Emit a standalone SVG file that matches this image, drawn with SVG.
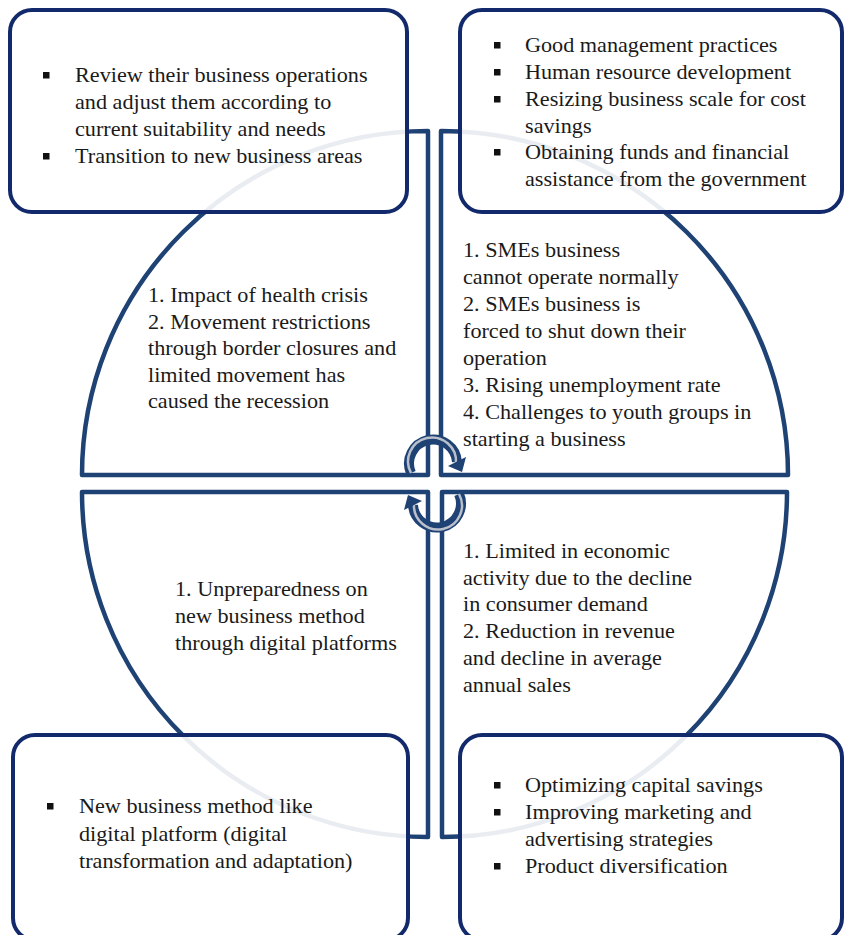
<svg xmlns="http://www.w3.org/2000/svg" width="845" height="935" viewBox="0 0 845 935">
<style>
.sector{fill:#ffffff;stroke:#1f4275;stroke-width:4.5;stroke-linejoin:round}
.box{fill:#ffffff;fill-opacity:0.9;stroke:#12296b;stroke-width:4}
.bul{fill:#111111}
.arcd{fill:none;stroke:#1f4275;stroke-width:10}
.arcl{fill:none;stroke:#b9c0cc;stroke-width:2.5}
</style>
<rect width="845" height="935" fill="#ffffff"/>
<g id="connectors">
  <g id="sector-tl"><path class="sector" d="M428,131 L428,475 L82,475 A346,344 0 0 1 428,131 Z"/></g>
  <g id="sector-tr"><path class="sector" d="M441,131 A347,344 0 0 1 788,475 L441,475 Z"/></g>
  <g id="sector-br"><path class="sector" d="M442,492 L787,492 A345,345 0 0 1 442,837 Z"/></g>
  <g id="sector-bl"><path class="sector" d="M428,492 L428,837 A346,345 0 0 1 82,492 Z"/></g>
  <g id="cycle-top">
    <path class="arcd" d="M411,473 A24,24 0 1 1 457,462"/>
    <path class="arcl" d="M411,473 A24,24 0 1 1 456,463"/>
    <polygon points="466,457 448,466 462,472" fill="#1f4275"/>
  </g>
  <g id="cycle-bottom" transform="rotate(180 435 483.5)">
    <path class="arcd" d="M411,473 A24,24 0 1 1 457,462"/>
    <path class="arcl" d="M411,473 A24,24 0 1 1 456,463"/>
    <polygon points="466,457 448,466 462,472" fill="#1f4275"/>
  </g>
</g>

<g id="q-tl" font-family="Liberation Serif" font-size="20" fill="#1a1a1a">
  <g transform="translate(148,0) scale(1.11,1)">
    <text x="0" y="302">1. Impact of health crisis</text>
    <text x="0" y="329">2. Movement restrictions</text>
    <text x="0" y="355">through border closures and</text>
    <text x="0" y="382">limited movement has</text>
    <text x="0" y="408">caused the recession</text>
  </g>
</g>
<g id="q-tr" font-family="Liberation Serif" font-size="20" fill="#1a1a1a">
  <g transform="translate(463,0) scale(1.11,1)">
    <text x="0" y="257">1. SMEs business</text>
    <text x="0" y="284">cannot operate normally</text>
    <text x="0" y="311">2. SMEs business is</text>
    <text x="0" y="338">forced to shut down their</text>
    <text x="0" y="365">operation</text>
    <text x="0" y="392">3. Rising unemployment rate</text>
    <text x="0" y="419">4. Challenges to youth groups in</text>
    <text x="0" y="446">starting a business</text>
  </g>
</g>
<g id="q-bl" font-family="Liberation Serif" font-size="20" fill="#1a1a1a">
  <g transform="translate(175,0) scale(1.11,1)">
    <text x="0" y="596">1. Unpreparedness on</text>
    <text x="0" y="623">new business method</text>
    <text x="0" y="650">through digital platforms</text>
  </g>
</g>
<g id="q-br" font-family="Liberation Serif" font-size="20" fill="#1a1a1a">
  <g transform="translate(463,0) scale(1.11,1)">
    <text x="0" y="558">1. Limited in economic</text>
    <text x="0" y="585">activity due to the decline</text>
    <text x="0" y="611">in consumer demand</text>
    <text x="0" y="638">2. Reduction in revenue</text>
    <text x="0" y="665">and decline in average</text>
    <text x="0" y="692">annual sales</text>
  </g>
</g>

<g id="box-tl" font-family="Liberation Serif" font-size="20" fill="#1a1a1a">
  <rect class="box" x="10" y="10" width="397" height="202" rx="22"/>
  <rect class="bul" x="43" y="72" width="6.5" height="6.5"/>
  <rect class="bul" x="43" y="153" width="6.5" height="6.5"/>
  <g transform="translate(75,0) scale(1.11,1)">
    <text x="0" y="82">Review their business operations</text>
    <text x="0" y="109">and adjust them according to</text>
    <text x="0" y="136">current suitability and needs</text>
    <text x="0" y="163">Transition to new business areas</text>
  </g>
</g>
<g id="box-tr" font-family="Liberation Serif" font-size="20" fill="#1a1a1a">
  <rect class="box" x="460" y="10" width="382" height="202" rx="22"/>
  <rect class="bul" x="494" y="42" width="6.5" height="6.5"/>
  <rect class="bul" x="494" y="69" width="6.5" height="6.5"/>
  <rect class="bul" x="494" y="96" width="6.5" height="6.5"/>
  <rect class="bul" x="494" y="149" width="6.5" height="6.5"/>
  <g transform="translate(525,0) scale(1.11,1)">
    <text x="0" y="52">Good management practices</text>
    <text x="0" y="79">Human resource development</text>
    <text x="0" y="106">Resizing business scale for cost</text>
    <text x="0" y="133">savings</text>
    <text x="0" y="159">Obtaining funds and financial</text>
    <text x="0" y="186">assistance from the government</text>
  </g>
</g>
<g id="box-bl" font-family="Liberation Serif" font-size="20" fill="#1a1a1a">
  <rect class="box" x="13" y="735" width="395" height="205" rx="22"/>
  <rect class="bul" x="47" y="803" width="6.5" height="6.5"/>
  <g transform="translate(79,0) scale(1.11,1)">
    <text x="0" y="813">New business method like</text>
    <text x="0" y="841">digital platform (digital</text>
    <text x="0" y="868">transformation and adaptation)</text>
  </g>
</g>
<g id="box-br" font-family="Liberation Serif" font-size="20" fill="#1a1a1a">
  <rect class="box" x="460" y="735" width="382" height="205" rx="22"/>
  <rect class="bul" x="494" y="782" width="6.5" height="6.5"/>
  <rect class="bul" x="494" y="809" width="6.5" height="6.5"/>
  <rect class="bul" x="494" y="863" width="6.5" height="6.5"/>
  <g transform="translate(525,0) scale(1.11,1)">
    <text x="0" y="792">Optimizing capital savings</text>
    <text x="0" y="819">Improving marketing and</text>
    <text x="0" y="846">advertising strategies</text>
    <text x="0" y="873">Product diversification</text>
  </g>
</g>
</svg>
